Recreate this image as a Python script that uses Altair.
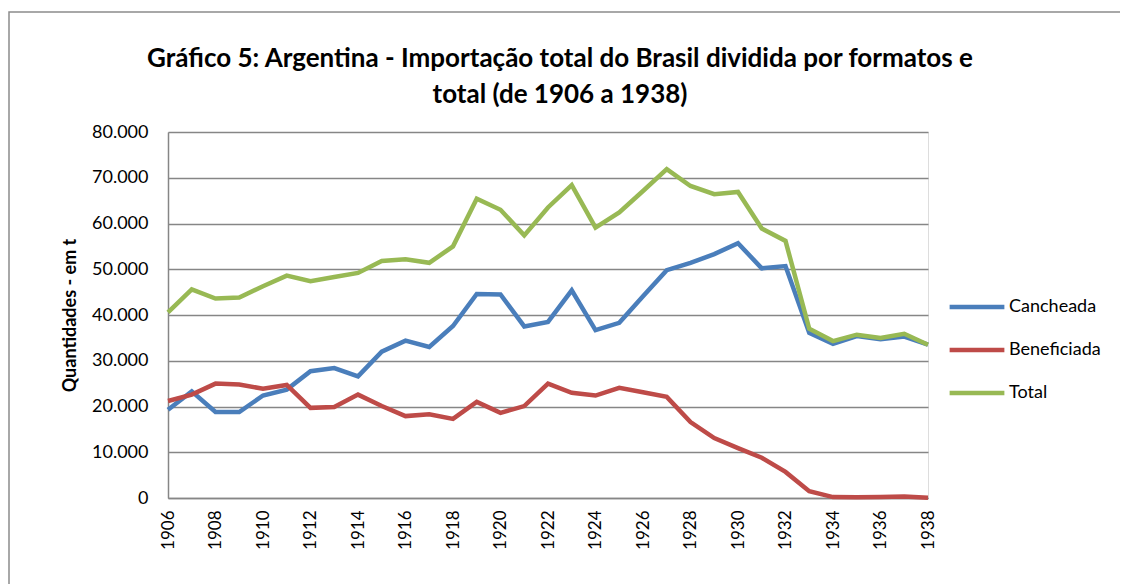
import altair as alt
import pandas as pd

years = list(range(1906, 1939))
cancheada = [19300, 23300, 18800, 18800, 22400, 23700, 27700, 28400, 26600, 32000, 34400, 33000, 37600,
             44600, 44500, 37500, 38500, 45400, 36700, 38300, 44100, 49800, 51400, 53300, 55700,
             50200, 50700, 36100, 33700, 35400, 34700, 35300, 33500]
beneficiada = [21200, 22600, 25000, 24800, 23900, 24700, 19700, 19900, 22600, 20100, 17900, 18300, 17300,
               21000, 18600, 20100, 25000, 23000, 22400, 24100, 23100, 22100, 16600, 13100, 10900,
               8800, 5700, 1500, 200, 150, 200, 350, 70]
total = [40600, 45600, 43600, 43800, 46300, 48600, 47400, 48300, 49200, 51800, 52200, 51400, 55000,
         65400, 63000, 57400, 63500, 68400, 59100, 62400, 67100, 71900, 68200, 66400, 66900,
         58900, 56200, 37000, 34300, 35700, 35000, 35900, 33500]

series_names = ["Cancheada", "Beneficiada", "Total"]
series_colors = ["#4A7EBB", "#BE4B48", "#98B954"]
x_ticks = list(range(1906, 1939, 2))
title_lines = ["Gráfico 5: Argentina - Importação total do Brasil dividida por formatos e",
               "total (de 1906 a 1938)"]

rows = []
for name, vals in zip(series_names, [cancheada, beneficiada, total]):
    for yr, v in zip(years, vals):
        rows.append({"Ano": yr, "Valor": v, "Serie": name, "ordem": series_names.index(name)})
df = pd.DataFrame(rows)

FONT = "Lato"
GRID = "#868686"

lines = alt.Chart(df).mark_line(strokeWidth=4.5).encode(
    x=alt.X("Ano:Q",
            scale=alt.Scale(domain=[1906, 1938], nice=False, zero=False),
            axis=alt.Axis(values=x_ticks, format="d", labelAngle=-90, title=None,
                          grid=False, ticks=False, labelPadding=12, labelFontSize=17,
                          labelFont=FONT, labelColor="#000000",
                          domainColor=GRID, domainWidth=1.5)),
    y=alt.Y("Valor:Q",
            scale=alt.Scale(domain=[0, 80000], nice=False),
            axis=alt.Axis(values=list(range(0, 80001, 10000)),
                          labelExpr="replace(format(datum.value, ','), ',', '.')",
                          title="Quantidades - em t", titleFont=FONT, titleFontSize=18,
                          titleFontWeight="bold", titleColor="#000000", titlePadding=12,
                          ticks=False, labelPadding=20, labelFontSize=18, labelFont=FONT,
                          labelColor="#000000", gridColor=GRID, gridWidth=1.5,
                          domainColor=GRID, domainWidth=1.5)),
    color=alt.Color("Serie:N",
                    scale=alt.Scale(domain=series_names, range=series_colors),
                    legend=alt.Legend(title=None, orient="none", legendX=779, legendY=145,
                                      symbolType="stroke", symbolSize=3000,
                                      symbolStrokeWidth=4.5, labelFontSize=18,
                                      labelFont=FONT, labelColor="#000000",
                                      rowPadding=4, labelOffset=2)),
    order=alt.Order("ordem:Q"),
    detail="Serie:N",
)

frame = alt.Chart(pd.DataFrame({"a": [0]})).mark_rect(
    fill="transparent", stroke="#8C8C8C", strokeWidth=1.5
).encode(
    x=alt.value(-159), x2=alt.value(990), y=alt.value(-120), y2=alt.value(480)
)

chart = alt.layer(frame, lines).properties(
    width=760, height=366,
    title=alt.Title(title_lines, font=FONT, fontSize=26, fontWeight="bold", color="#000000",
                    anchor="middle", offset=28, dx=12, dy=125, lineHeight=36),
    autosize=alt.AutoSizeParams(type="none"),
    padding={"left": 160, "top": 124, "right": 192, "bottom": 86},
).configure_view(stroke=None).configure(background="white")

chart.save("out.html", embed_options={"renderer": "svg", "actions": False})
